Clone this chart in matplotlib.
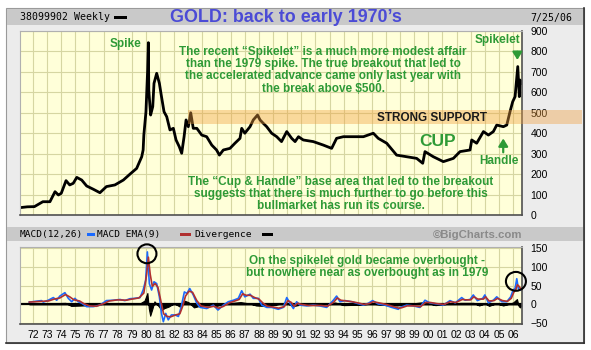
import matplotlib.pyplot as plt
from matplotlib.patches import Rectangle, Ellipse

# ---- data ----
years = list(range(1972, 2007))
year_labels = ["%02d" % (y % 100) for y in years]

price_t = [1971.08, 1971.6, 1972.1, 1972.45, 1972.7, 1973.2, 1973.56, 1973.8, 1974.0, 1974.34,
           1974.6, 1974.85, 1975.1, 1975.45, 1975.8, 1976.27, 1976.74, 1977.2, 1977.8, 1978.4,
           1978.87, 1979.34, 1979.7, 1979.8, 1979.85, 1980.0, 1980.12, 1980.17, 1980.2, 1980.33,
           1980.48, 1980.57, 1980.76, 1980.95, 1981.1, 1981.28, 1981.47, 1981.7, 1981.94, 1982.13,
           1982.36, 1982.53, 1982.7, 1982.84, 1983.0, 1983.17, 1983.35, 1983.6, 1983.95, 1984.3,
           1984.66, 1985.0, 1985.2, 1985.48, 1985.95, 1986.3, 1986.66, 1986.78, 1987.0, 1987.37,
           1987.6, 1987.9, 1988.08, 1988.3, 1988.55, 1988.9, 1989.26, 1989.6, 1989.97, 1990.32,
           1990.56, 1990.8, 1991.14, 1991.85, 1992.56, 1993.15, 1993.5, 1993.98, 1994.7, 1995.4,
           1996.1, 1996.45, 1997.05, 1997.75, 1998.46, 1999.17, 1999.6, 1999.76, 2000.35, 2001.06,
           2001.77, 2002.24, 2002.95, 2003.07, 2003.42, 2003.9, 2004.25, 2004.6, 2004.84, 2005.31,
           2005.55, 2005.78, 2005.97, 2006.14, 2006.33, 2006.44, 2006.5, 2006.56]
price_v = [36, 40, 41, 55, 65, 65, 114, 98, 106, 168,
           147, 155, 184, 171, 142, 126, 109, 139, 147, 171,
           200, 228, 285, 318, 391, 505, 709, 843, 611, 489,
           530, 644, 693, 644, 579, 505, 481, 416, 424, 367,
           334, 302, 383, 465, 432, 500, 424, 424, 391, 383,
           342, 318, 293, 318, 326, 351, 375, 424, 400, 432,
           465, 489, 465, 449, 432, 400, 383, 359, 408, 375,
           359, 383, 367, 359, 342, 326, 375, 383, 383, 383,
           400, 375, 351, 293, 285, 277, 253, 310, 285, 261,
           277, 310, 318, 367, 351, 408, 391, 408, 440, 432,
           440, 505, 554, 579, 726, 579, 660, 644]

macd_t = [1971.74, 1972.6, 1972.73, 1973.08, 1973.44, 1973.68, 1973.9, 1974.26, 1974.5, 1974.74,
          1974.97, 1975.2, 1975.45, 1975.8, 1976.27, 1976.74, 1977.2, 1977.7, 1978.16, 1978.5,
          1978.87, 1979.22, 1979.58, 1979.8, 1979.98, 1980.1, 1980.24, 1980.4, 1980.57, 1980.76,
          1980.95, 1981.1, 1981.23, 1981.4, 1981.58, 1981.8, 1982.06, 1982.3, 1982.5, 1982.72,
          1982.9, 1983.1, 1983.35, 1983.6, 1983.83, 1984.3, 1984.77, 1985.1, 1985.48, 1985.83,
          1986.2, 1986.54, 1986.78, 1987.0, 1987.37, 1987.6, 1987.96, 1988.2, 1988.55, 1988.9,
          1989.37, 1989.73, 1989.97, 1990.2, 1990.44, 1990.67, 1990.9, 1991.38, 1991.85, 1992.3,
          1992.8, 1993.27, 1993.5, 1993.74, 1994.1, 1994.57, 1994.92, 1995.4, 1995.75, 1996.05,
          1996.45, 1996.93, 1997.4, 1997.87, 1998.0, 1998.46, 1998.93, 1999.4, 1999.76, 2000.1,
          2000.6, 2001.06, 2001.53, 2001.9, 2002.36, 2002.6, 2002.95, 2003.18, 2003.47, 2003.85,
          2004.0, 2004.25, 2004.6, 2004.84, 2005.2, 2005.55, 2005.83, 2006.0, 2006.14, 2006.26,
          2006.37, 2006.5]
macd_v = [6, 10, 6, 11, 18, 11, 22, 31, 16, 7,
          16, 7, 3, -6, -6, -2, 10, 11, 13, 10,
          15, 16, 18, 38, 64, 139, 55, 38, 60, 55,
          20, -24, -46, -24, -41, -28, -28, -32, -6, 33,
          29, 42, 25, 3, -8, -11, -2, -15, -2, 7,
          11, 16, 36, 20, 27, 16, 16, -2, -8, -8,
          -13, -8, 18, 3, -11, 7, -2, -4, -2, -4,
          -8, 11, 22, 7, 10, 7, 3, -2, 3, 10,
          1, -2, -8, -13, -8, -2, -4, -8, 11, 4,
          1, -2, 10, 4, 18, 11, 13, 25, 10, 16,
          25, 4, 11, 20, 7, 7, 20, 38, 42, 68,
          42, 38]

ema_t = [1971.74, 1972.6, 1973.1, 1973.5, 1973.9, 1974.3, 1974.6, 1974.9, 1975.3, 1975.6,
         1976.0, 1976.5, 1977.0, 1977.4, 1978.0, 1978.6, 1979.0, 1979.5, 1979.85, 1980.05,
         1980.17, 1980.3, 1980.45, 1980.65, 1980.85, 1981.05, 1981.25, 1981.5, 1981.75, 1982.1,
         1982.4, 1982.6, 1982.8, 1983.05, 1983.3, 1983.6, 1983.9, 1984.4, 1984.8, 1985.15,
         1985.5, 1985.9, 1986.3, 1986.6, 1986.85, 1987.1, 1987.4, 1987.7, 1988.0, 1988.3,
         1988.6, 1989.0, 1989.4, 1989.8, 1990.05, 1990.3, 1990.5, 1990.75, 1991.0, 1991.5,
         1992.0, 1992.4, 1992.85, 1993.3, 1993.55, 1993.8, 1994.2, 1994.6, 1995.0, 1995.45,
         1995.8, 1996.1, 1996.5, 1997.0, 1997.45, 1997.9, 1998.1, 1998.5, 1999.0, 1999.45,
         1999.8, 2000.15, 2000.6, 2001.1, 2001.55, 2001.95, 2002.4, 2002.65, 2003.0, 2003.22,
         2003.5, 2003.9, 2004.05, 2004.3, 2004.65, 2004.9, 2005.25, 2005.6, 2005.87, 2006.05,
         2006.2, 2006.3, 2006.42, 2006.56]
ema_v = [6, 8, 9, 14, 17, 26, 20, 12, 9, 2,
         -4, -5, 2, 9, 12, 11, 14, 17, 30, 80,
         125, 80, 48, 55, 45, 10, -25, -32, -33, -28,
         -25, -5, 22, 35, 32, 10, -4, -8, -5, -10,
         -5, 4, 9, 13, 28, 24, 24, 18, 14, 3,
         -5, -7, -10, -6, 10, 5, -5, 3, 0, -3,
         -3, -3, -5, 6, 17, 11, 9, 7, 4, 0,
         2, 7, 4, 0, -5, -10, -9, -4, -4, -6,
         5, 5, 2, 0, 7, 5, 13, 12, 12, 20,
         14, 14, 20, 9, 10, 16, 10, 8, 16, 32,
         40, 52, 48, 40]

div_t = [1971.74, 1973.4, 1974.3, 1974.7, 1975.5, 1976.3, 1977.2, 1978.0, 1979.0, 1979.6,
         1979.9, 1980.1, 1980.2, 1980.3, 1980.45, 1980.6, 1980.9, 1981.1, 1981.3, 1981.6,
         1982.0, 1982.4, 1982.7, 1983.0, 1983.4, 1983.8, 1984.3, 1985.0, 1985.8, 1986.7,
         1987.4, 1987.8, 1988.3, 1989.0, 1989.9, 1990.4, 1991.0, 1992.0, 1993.4, 1994.0,
         1995.0, 1996.0, 1997.0, 1997.8, 1998.5, 1999.7, 2000.5, 2001.5, 2002.3, 2003.2,
         2003.6, 2004.0, 2004.3, 2004.8, 2005.3, 2006.0, 2006.27, 2006.4, 2006.5, 2006.56]
div_v = [0, 3, 4, -4, -3, -2, 3, 2, 2, 3,
         10, 30, -10, -30, -12, 8, -5, -15, -10, -6,
         3, -6, 10, 6, -8, -4, -3, -4, 3, 6,
         2, -3, -4, -2, 5, -5, 0, -1, 5, -2,
         -1, 2, -2, -3, 1, 6, -2, 2, 4, 4,
         -3, 3, -4, 3, -3, 5, 14, -5, -8, -4]

# ---- layout helpers (pixel coords, origin top-left) ----
W, H = 591, 350
GREEN = '#2e9a36'

fig = plt.figure(figsize=(W / 100, H / 100), dpi=100)
fig.patch.set_facecolor('white')


def box(x0, y0, x1, y1, **kw):
    fig.add_artist(Rectangle((x0 / W, 1 - y1 / H), (x1 - x0) / W, (y1 - y0) / H,
                             transform=fig.transFigure, zorder=-5, **kw))


def ftext(x, y, s, **kw):
    fig.text(x / W, 1 - y / H, s, **kw)


# outer frame + header bars
box(6, 8, 584, 343, facecolor='#ececec', edgecolor='#9a9a9a', lw=0.8)
box(7, 9, 583, 25, facecolor='#c9c9c9', lw=0)
box(7, 227, 583, 241, facecolor='#c9c9c9', lw=0)
fig.add_artist(plt.Line2D([584 / W, 584 / W], [1 - 8 / H, 1 - 343 / H], color='#303030',
                          lw=1.2, transform=fig.transFigure))
fig.add_artist(plt.Line2D([6 / W, 584 / W], [1 - 343 / H, 1 - 343 / H], color='#303030',
                          lw=1.2, transform=fig.transFigure))

ftext(20, 17.5, "38099902 Weekly", family='DejaVu Sans Mono', fontsize=7.1, va='center')
box(114, 16, 127, 19, facecolor='black', lw=0)
ftext(170, 17, "GOLD: back to early 1970\u2019s", family='Liberation Sans', weight='bold',
      fontsize=12.9, color='#4b4bd6', va='center')
ftext(530, 17.5, "7/25/06", family='DejaVu Sans Mono', fontsize=7.1, va='center')

ftext(20, 234.5, "MACD(12,26)", family='DejaVu Sans Mono', fontsize=6.8, va='center')
box(87, 233, 95, 236, facecolor='#1a6aff', lw=0)
ftext(97, 234.5, "MACD EMA(9)", family='DejaVu Sans Mono', fontsize=6.8, va='center')
box(180, 233, 191, 236, facecolor='#b03030', lw=0)
ftext(194, 234.5, "Divergence", family='DejaVu Sans Mono', fontsize=6.8, va='center')
box(262, 233, 273, 236, facecolor='black', lw=0)
ftext(522, 234.5, "\u00a9BigCharts.com", family='Liberation Sans', weight='bold', fontsize=8.2,
      color='#8a8a8a', va='center', ha='right')

x_lo, x_hi = 1971.08, 2006.63
grid_c = '#d6d6a2'

# ---- price panel ----
ax1 = fig.add_axes([20 / W, 1 - 215 / H, 502 / W, 184 / H])
ax1.set_facecolor('#ffffd9')
ax1.set_xlim(x_lo, x_hi)
ax1.set_ylim(0, 900)
ax1.set_xticks(years)
ax1.set_xticklabels([])
ax1.yaxis.tick_right()
ax1.set_yticks(range(0, 1000, 100))
ax1.tick_params(axis='both', length=0)
ax1.tick_params(axis='y', pad=6)
for lab in ax1.get_yticklabels():
    lab.set_family('Liberation Sans')
    lab.set_fontsize(7.5)
ax1.grid(True, color=grid_c, lw=0.8)
ax1.set_axisbelow(True)
for s in ['top', 'left']:
    ax1.spines[s].set_color('#b0b0b0')
for s in ['bottom', 'right']:
    ax1.spines[s].set_color('#505050')
    ax1.spines[s].set_linewidth(1.2)

ax1.plot(price_t, price_v, color='black', lw=2.0, zorder=2)
ax1.add_patch(Rectangle((1983.0, 445), 2010.9 - 1983.0, 67, facecolor='#f0a040', alpha=0.4,
                        lw=0, zorder=3, clip_on=False))

txt = dict(family='Liberation Sans', weight='bold', color=GREEN, fontsize=8.5,
           ha='center', va='center', transform=fig.transFigure, linespacing=1.0)
fig.text(126 / W, 1 - 43.5 / H, "Spike", **txt)
fig.text(497 / W, 1 - 40 / H, "Spikelet", **txt)
fig.text(323 / W, 1 - 70.5 / H,
         "The recent \u201cSpikelet\u201d is a much more modest affair\n"
         "than the 1979 spike. The true breakout that led to\n"
         "the accelerated advance came only last year with\n"
         "the break above $500.", **txt)
fig.text(341 / W, 1 - 194.3 / H,
         "The \u201cCup & Handle\u201d base area that led to the breakout\n"
         "suggests that there is much further to go before this\n"
         "bullmarket has run its course.", **txt)
fig.text(438 / W, 1 - 141.5 / H, "CUP", **{**txt, 'fontsize': 12.5})
fig.text(499 / W, 1 - 161.5 / H, "Handle", **txt)
fig.text(431.7 / W, 1 - 118.3 / H, "STRONG SUPPORT", family='Liberation Sans', weight='bold',
         fontsize=8.5, color='#1a1a1a', ha='center', va='center')

arrow = dict(arrowstyle='-|>,head_width=0.28,head_length=0.45', color=GREEN, lw=1.6)
ax1.annotate('', xy=(2006.3, 745), xytext=(2006.3, 812), arrowprops=arrow, zorder=5)
ax1.annotate('', xy=(2005.3, 388), xytext=(2005.3, 293), arrowprops=arrow, zorder=5)

# ---- MACD panel ----
ax2 = fig.add_axes([20 / W, 1 - 324 / H, 502 / W, 77 / H])
ax2.set_facecolor('#ffffd9')
ax2.set_xlim(x_lo, x_hi)
ax2.set_ylim(-52, 152)
ax2.set_xticks(years)
ax2.set_xticklabels(year_labels)
ax2.yaxis.tick_right()
ax2.set_yticks([-50, 0, 50, 100, 150])
ax2.tick_params(axis='both', length=0)
ax2.tick_params(axis='y', pad=6)
ax2.tick_params(axis='x', pad=4)
for lab in ax2.get_yticklabels() + ax2.get_xticklabels():
    lab.set_family('Liberation Sans')
    lab.set_fontsize(7.5)
ax2.grid(True, color=grid_c, lw=0.8)
ax2.set_axisbelow(True)
for s in ['top', 'left']:
    ax2.spines[s].set_color('#b0b0b0')
for s in ['bottom', 'right']:
    ax2.spines[s].set_color('#505050')
    ax2.spines[s].set_linewidth(1.2)

ax2.axhline(0, color='black', lw=1.6, zorder=2)
ax2.fill_between(div_t, 0, div_v, color='black', lw=0.8, zorder=2)
ax2.plot(macd_t, macd_v, color='#1a6aff', lw=1.2, zorder=3)
ax2.plot(ema_t, ema_v, color='#b03030', lw=1.2, zorder=4)

ax2.add_patch(Ellipse((1980.07, 134), 19 / 14.12, 19 / 0.38, fill=False, edgecolor='black',
                      lw=1.5, zorder=5, clip_on=False))
ax2.add_patch(Ellipse((2006.2, 61), 20 / 14.12, 19 / 0.38, fill=False, edgecolor='black',
                      lw=1.5, zorder=5, clip_on=False))
fig.text(367 / W, 1 - 266.7 / H,
         "On the spikelet gold became overbought -\n"
         "but nowhere near as overbought as in 1979", **txt)

fig.savefig('out.png', dpi=100)
